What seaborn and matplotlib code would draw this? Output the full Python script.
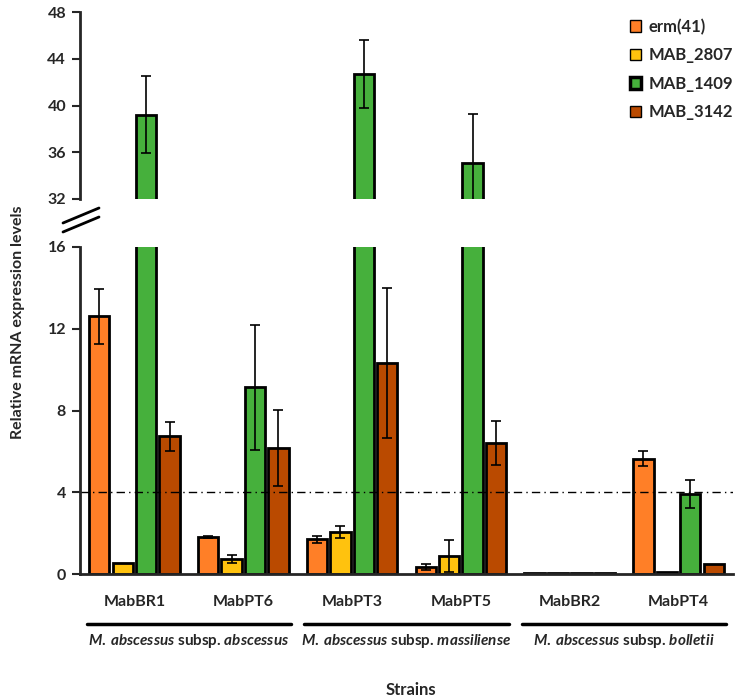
"""
Relative mRNA expression of four genes in M. abscessus strains,
drawn as a broken-axis grouped bar chart.
"""

import matplotlib.pyplot as plt
from matplotlib.lines import Line2D
import seaborn as sns
import numpy as np
import pandas as pd

strains = ['MabBR1', 'MabPT6', 'MabPT3', 'MabPT5', 'MabBR2', 'MabPT4']
genes = ['erm(41)', 'MAB_2807', 'MAB_1409', 'MAB_3142']

erm41 = [12.6, 1.8, 1.7, 0.35, 0.05, 5.65]
erm41_err = [1.33, 0.05, 0.18, 0.16, 0, 0.39]
mab2807 = [0.52, 0.75, 2.04, 0.9, 0.05, 0.12]
mab2807_err = [0, 0.19, 0.3, 0.78, 0, 0]
mab1409 = [39.2, 9.13, 42.7, 35.1, 0.05, 3.91]
mab1409_err = [3.3, 3.06, 2.9, 4.2, 0, 0.69]
mab3142 = [6.73, 6.15, 10.3, 6.41, 0.05, 0.49]
mab3142_err = [0.7, 1.86, 3.67, 1.1, 0, 0]

# each subspecies covers two consecutive strains
subspecies = ['abscessus', 'massiliense', 'bolletii']
threshold = 4

colors = ['#FF7F27', '#FFC20E', '#46B03C', '#BA4A00']


def build_frame():
    values = [erm41, mab2807, mab1409, mab3142]
    rows = []
    for gene, vals in zip(genes, values):
        for strain, v in zip(strains, vals):
            rows.append({'strain': strain, 'gene': gene, 'value': v})
    return pd.DataFrame(rows)


def draw_bars(ax, df):
    sns.barplot(data=df, x='strain', y='value', hue='gene', order=strains,
                hue_order=genes, palette=colors, saturation=1, width=0.86,
                gap=0.13, edgecolor='black', linewidth=2, errorbar=None,
                legend=False, ax=ax)
    errs = [erm41_err, mab2807_err, mab1409_err, mab3142_err]
    for cont, err in zip(ax.containers, errs):
        for bar, e in zip(cont, err):
            if e <= 0:
                continue
            x = bar.get_x() + bar.get_width() / 2
            ax.errorbar(x, bar.get_height(), yerr=e, fmt='none',
                        ecolor='black', elinewidth=1.2, capsize=3.5,
                        capthick=1.2)
    ax.set_xlim(-0.5, len(strains) - 0.5)
    ax.set_xlabel('')
    ax.set_ylabel('')


def main():
    sns.set_style('white')
    plt.rcParams['font.family'] = ['Lato', 'DejaVu Sans']
    plt.rcParams['mathtext.fontset'] = 'custom'
    plt.rcParams['mathtext.it'] = 'Lato:bold:italic'
    plt.rcParams['mathtext.rm'] = 'Lato:bold'

    df = build_frame()
    W, H = 744, 700
    fig = plt.figure(figsize=(W / 100, H / 100), dpi=100)

    left, right = 80, 733
    ax_top = fig.add_axes([left / W, 1 - 199 / H, (right - left) / W, 187 / H])
    ax_bot = fig.add_axes([left / W, 1 - 574 / H, (right - left) / W, 327 / H])

    draw_bars(ax_top, df)
    draw_bars(ax_bot, df)

    ax_top.set_ylim(32, 48)
    ax_top.set_yticks(np.arange(32, 49, 4))
    ax_bot.set_ylim(0, 16)
    ax_bot.set_yticks(np.arange(0, 17, 4))

    for ax in (ax_top, ax_bot):
        sns.despine(ax=ax, top=True, right=True)
        ax.spines['left'].set_linewidth(2)
        ax.spines['bottom'].set_linewidth(2)
        ax.tick_params(axis='y', direction='out', length=6, width=1.5,
                       left=True, labelsize=11.5, pad=4)
        for lab in ax.get_yticklabels():
            lab.set_fontweight('bold')
    ax_top.set_xticks([])
    ax_top.spines['bottom'].set_visible(False)

    ax_bot.set_xticks(range(len(strains)))
    ax_bot.set_xticklabels(strains, fontsize=11.5, fontweight='bold')
    ax_bot.tick_params(axis='x', length=0, pad=15)

    # cut-off line
    ax_bot.axhline(threshold, color='black', linestyle=(0, (6, 3, 1, 3)),
                   linewidth=1)

    # legend
    handles = [plt.Rectangle((0, 0), 1, 1, facecolor=c, edgecolor='black',
                             linewidth=2.5 if g == 'MAB_1409' else 1)
               for g, c in zip(genes, colors)]
    ax_top.legend(handles, genes, loc='upper left',
                  bbox_to_anchor=(0.82, 1.045), frameon=False,
                  prop={'weight': 'bold', 'size': 12}, handlelength=0.65,
                  handleheight=0.65, handletextpad=0.45, labelspacing=0.75)

    # axis break marks
    for dy in (0, 9):
        fig.add_artist(Line2D([63 / W, 99 / W],
                              [1 - (223 + dy) / H, 1 - (208 + dy) / H],
                              color='black', linewidth=2))

    # subspecies groups under the strain labels
    trans = ax_bot.get_xaxis_transform()
    line_y = -(624 - 574) / 327
    text_y = -(641 - 574) / 327
    for i, sub in enumerate(subspecies):
        mid = 2 * i + 0.5
        ax_bot.add_line(Line2D([mid - 0.94, mid + 0.94], [line_y, line_y],
                               transform=trans, color='black', linewidth=2.5,
                               clip_on=False))
        txt = r'$\mathit{M.\:abscessus}$ subsp. $\mathit{' + sub + '}$'
        ax_bot.text(mid, text_y, txt, transform=trans, ha='center',
                    va='center', fontsize=11, fontweight='bold')

    fig.text(411 / W, 1 - 690 / H, 'Strains', ha='center', va='center',
             fontsize=12, fontweight='bold')
    fig.text(18 / W, 1 - 322 / H, 'Relative mRNA expression levels',
             ha='center', va='center', rotation=90, fontsize=11.5,
             fontweight='bold')

    fig.savefig('out.png', dpi=100)
    plt.close(fig)


if __name__ == '__main__':
    main()
